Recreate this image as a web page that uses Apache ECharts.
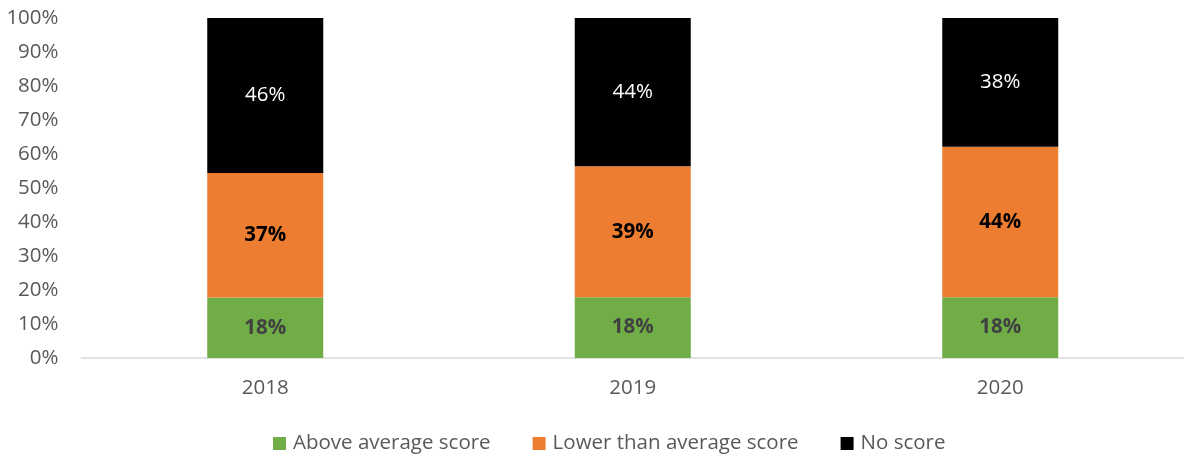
<!DOCTYPE html>
<html>
<head>
<meta charset="utf-8">
<script src="https://cdn.jsdelivr.net/npm/echarts@6/dist/echarts.min.js"></script>
<style>
    html, body { margin: 0; padding: 0; background: #fff; }
    #chart { width: 1184px; height: 459px; }
</style>
</head>
<body>
<div id="chart"></div>
<script>
    // 数据
    const years = ['2018', '2019', '2020'];
    const aboveAvg = [17.8, 17.9, 17.9];
    const lowerAvg = [36.6, 38.5, 44.2];
    const noScore = [45.6, 43.6, 37.9];
    const yTicks = [0, 10, 20, 30, 40, 50, 60, 70, 80, 90, 100];

    const fontFam = '"Open Sans", sans-serif';
    const fs = 20.5;

    function pct(p) {
        return Math.round(p.value) + '%';
    }

    let chart = echarts.init(document.getElementById('chart'));
    chart.setOption({
        animation: false,
        textStyle: { fontFamily: fontFam },
        grid: { left: 81.5, width: 1107, top: 18, bottom: 101, containLabel: false },
        legend: {
            bottom: 0,
            left: 268,
            itemWidth: 13,
            itemHeight: 13,
            itemGap: 42,
            icon: 'rect',
            textStyle: { fontSize: fs, color: '#595959', fontFamily: fontFam, padding: [0, 0, 0, 2] },
            data: ['Above average score', 'Lower than average score', 'No score']
        },
        xAxis: {
            type: 'category',
            data: years,
            axisLine: { lineStyle: { color: '#d9d9d9', width: 1.5 } },
            axisTick: { show: false },
            axisLabel: { fontSize: fs, color: '#595959', margin: 20 }
        },
        yAxis: {
            type: 'value',
            min: yTicks[0],
            max: yTicks[yTicks.length - 1],
            interval: 10,
            splitLine: { show: false },
            axisLine: { show: false },
            axisTick: { show: false },
            axisLabel: { fontSize: fs, color: '#595959', margin: 23, formatter: '{value}%' }
        },
        series: [
            {
                name: 'Above average score',
                type: 'bar',
                stack: 'total',
                barWidth: 116,
                data: aboveAvg,
                itemStyle: { color: '#70ad47' },
                label: { show: true, formatter: pct, fontSize: fs, fontWeight: 'bold', color: '#404040' }
            },
            {
                name: 'Lower than average score',
                type: 'bar',
                stack: 'total',
                data: lowerAvg,
                itemStyle: { color: '#ed7d31' },
                label: { show: true, formatter: pct, fontSize: fs, fontWeight: 'bold', color: '#000' }
            },
            {
                name: 'No score',
                type: 'bar',
                stack: 'total',
                data: noScore,
                itemStyle: { color: '#000000' },
                label: { show: true, formatter: pct, fontSize: fs, color: '#fff' }
            }
        ]
    });
</script>
</body>
</html>
